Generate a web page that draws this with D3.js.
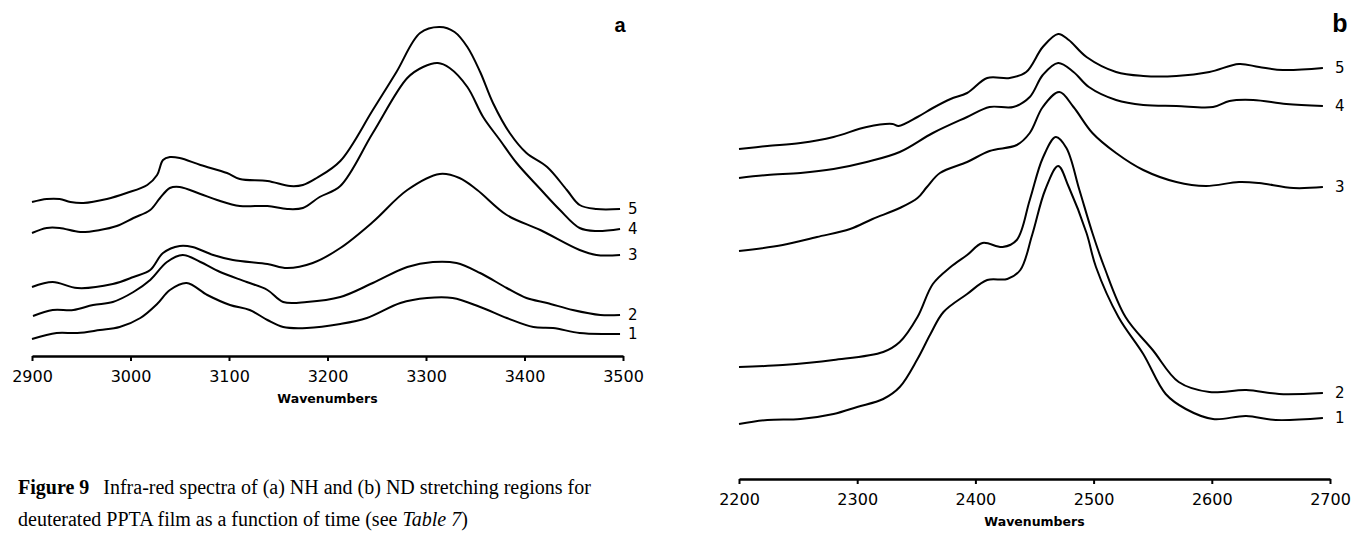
<!DOCTYPE html>
<html>
<head>
<meta charset="utf-8">
<script src="https://cdn.jsdelivr.net/npm/d3@7"></script>
<style>
body { margin: 0; background: #fff; }
svg { display: block; }
</style>
</head>
<body>
<svg width="1356" height="534"></svg>
<script>
// (a) NH stretching region: [wavenumber, absorbance (arb. units, offset)]
const aTicks = [2900, 3000, 3100, 3200, 3300, 3400, 3500];
const a5 = [[2900,154],[2915,157],[2928,157],[2939,154],[2952,153],[2976,157],[2996,163],[3017,171],[3027,181],[3033,196],[3040,199],[3050,198],[3071,191],[3098,183],[3111,177],[3139,175],[3162,170],[3175,171],[3189,178],[3213,195],[3246,246],[3270,284],[3294,323],[3314,329],[3329,324],[3342,309],[3355,284],[3368,253],[3385,223],[3402,203],[3423,189],[3443,166],[3456,151],[3473,147],[3497,147]];
const a4 = [[2900,123],[2915,128],[2928,128],[2949,124],[2969,126],[2986,130],[3003,138],[3020,146],[3030,158],[3040,168],[3050,169],[3071,162],[3088,156],[3111,150],[3139,150],[3159,147],[3175,148],[3192,159],[3213,170],[3246,223],[3281,278],[3297,289],[3312,293],[3324,288],[3342,269],[3358,239],[3375,216],[3392,193],[3416,167],[3436,146],[3456,128],[3473,125],[3497,127]];
const a3 = [[2900,69],[2921,74],[2946,68],[2982,72],[3003,79],[3020,86],[3033,103],[3050,110],[3063,109],[3084,101],[3104,96],[3139,92],[3159,88],[3185,93],[3213,108],[3246,134],[3281,166],[3314,182],[3334,178],[3352,166],[3382,141],[3416,126],[3456,106],[3473,101],[3497,101]];
const a2 = [[2901,40],[2921,46],[2942,46],[2962,51],[2982,54],[3003,64],[3020,76],[3037,94],[3053,101],[3071,94],[3091,84],[3118,74],[3139,66],[3155,54],[3179,54],[3213,59],[3246,73],[3281,89],[3307,94],[3331,93],[3355,83],[3382,68],[3402,58],[3423,53],[3449,46],[3477,41],[3497,41]];
const a1 = [[2900,17],[2925,23],[2946,23],[2969,26],[2989,29],[3010,38],[3027,52],[3040,66],[3057,73],[3078,61],[3101,51],[3121,46],[3139,36],[3155,29],[3179,28],[3213,32],[3240,38],[3274,53],[3301,58],[3327,58],[3355,49],[3382,38],[3409,29],[3429,28],[3456,23],[3484,22],[3497,22]];

// (b) ND stretching region
const bTicks = [2200, 2300, 2400, 2500, 2600, 2700];
const b5 = [[2200,330],[2224,333],[2252,336],[2280,342],[2308,352],[2330,355],[2335,353],[2351,362],[2364,371],[2379,380],[2393,386],[2410,401],[2429,401],[2443,407],[2457,432],[2470,445],[2479,439],[2494,422],[2519,407],[2542,403],[2570,403],[2598,407],[2623,415],[2640,412],[2660,409],[2694,411]];
const b4 = [[2200,301],[2224,304],[2252,306],[2280,310],[2308,317],[2336,327],[2364,346],[2393,362],[2412,372],[2432,372],[2446,382],[2457,404],[2470,416],[2483,407],[2496,392],[2519,379],[2542,374],[2570,373],[2601,372],[2615,378],[2635,379],[2663,375],[2694,373]];
const b3 = [[2200,228],[2237,234],[2266,242],[2294,250],[2313,260],[2336,271],[2351,281],[2359,292],[2370,306],[2393,317],[2412,328],[2435,334],[2446,346],[2457,372],[2471,387],[2483,372],[2499,346],[2519,326],[2542,309],[2570,297],[2595,293],[2623,297],[2640,296],[2669,291],[2694,292]];
const b2 = [[2200,112],[2237,114],[2280,119],[2322,127],[2336,137],[2351,162],[2364,195],[2379,212],[2393,224],[2406,236],[2423,232],[2435,239],[2446,279],[2457,321],[2468,342],[2477,331],[2488,289],[2499,246],[2509,212],[2527,162],[2550,129],[2572,97],[2598,87],[2629,89],[2657,85],[2694,86]];
const b1 = [[2200,55],[2224,59],[2252,60],[2280,65],[2300,72],[2322,80],[2336,92],[2351,120],[2362,145],[2373,167],[2393,185],[2410,199],[2427,200],[2438,209],[2448,244],[2459,289],[2470,313],[2479,292],[2494,246],[2502,212],[2521,162],[2542,125],[2561,85],[2578,70],[2601,60],[2629,63],[2654,59],[2694,61]];

const curveNames = ["1", "2", "3", "4", "5"];

const svg = d3.select("svg");
svg.append("rect").attr("width", 1356).attr("height", 534).attr("fill", "#fff");

function panel(series, ticks, xDomain, xRange, yDomain, yRange, letter, letterPos, letterSize) {
    const x = d3.scaleLinear().domain(xDomain).range(xRange);
    const y = d3.scaleLinear().domain(yDomain).range(yRange);
    const g = svg.append("g");
    const line = d3.line().x(d => x(d[0])).y(d => y(d[1])).curve(d3.curveCatmullRom.alpha(0.5));

    g.selectAll("path.spec").data(series).join("path")
        .attr("class", "spec")
        .attr("d", line)
        .attr("fill", "none")
        .attr("stroke", "#000")
        .attr("stroke-width", 2)
        .attr("stroke-linejoin", "round");

    // curve numbers at the right end
    g.selectAll("text.num").data(series).join("text")
        .attr("class", "num")
        .attr("x", xRange[1] + 5)
        .attr("y", d => y(d[d.length - 1][1]))
        .attr("dy", "0.36em")
        .attr("font-family", "DejaVu Sans, sans-serif")
        .attr("font-size", 15)
        .text((d, i) => curveNames[i]);

    const axis = d3.axisBottom(x).tickValues(ticks).tickSize(5).tickSizeOuter(0).tickFormat(d3.format("d"));
    const ax = g.append("g").attr("transform", "translate(0," + yRange[0] + ")").call(axis);
    ax.select(".domain").attr("stroke-width", 2.5);
    ax.selectAll(".tick line").attr("stroke-width", 2);
    ax.selectAll(".tick text")
        .attr("font-family", "DejaVu Sans, sans-serif")
        .attr("font-size", 16)
        .attr("dy", "1.1em")
        .attr("fill", "#000");

    g.append("text")
        .attr("x", (xRange[0] + xRange[1]) / 2)
        .attr("y", yRange[0] + 47)
        .attr("text-anchor", "middle")
        .attr("font-family", "DejaVu Sans, sans-serif")
        .attr("font-weight", "bold")
        .attr("font-size", 12.5)
        .text("Wavenumbers");

    g.append("text")
        .attr("x", letterPos[0])
        .attr("y", letterPos[1])
        .attr("text-anchor", "middle")
        .attr("dy", "0.36em")
        .attr("font-family", "Liberation Sans, Arial, sans-serif")
        .attr("font-weight", "bold")
        .attr("font-size", letterSize)
        .text(letter);
}

panel([a1, a2, a3, a4, a5], aTicks, [2900, 3500], [32, 623], [0, 340], [356, 16], "a", [620, 25], 20);
panel([b1, b2, b3, b4, b5], bTicks, [2200, 2700], [739, 1330], [0, 460], [479, 19], "b", [1340, 23], 25);

// caption
const cap = svg.append("text")
    .attr("x", 18)
    .attr("y", 494)
    .attr("font-family", "Liberation Serif, Times New Roman, serif")
    .attr("font-size", 20);
cap.append("tspan").attr("font-weight", "bold").text("Figure 9");
cap.append("tspan").attr("dx", 14).text("Infra-red spectra of (a) NH and (b) ND stretching regions for");
const cap2 = svg.append("text")
    .attr("x", 18)
    .attr("y", 526)
    .attr("font-family", "Liberation Serif, Times New Roman, serif")
    .attr("font-size", 20);
cap2.append("tspan").text("deuterated PPTA film as a function of time (see ");
cap2.append("tspan").attr("font-style", "italic").text("Table 7");
cap2.append("tspan").text(")");
</script>
</body>
</html>
